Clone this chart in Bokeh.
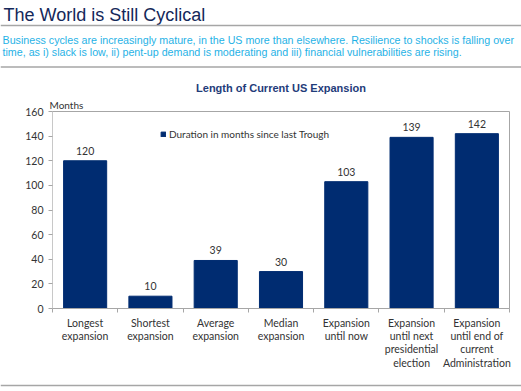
from bokeh.plotting import figure
from bokeh.layouts import column
from bokeh.models import (Range1d, FixedTicker, LabelSet, ColumnDataSource,
                          Legend, LegendItem, Title)
from bokeh.core.properties import value
from bokeh.embed import file_html
from bokeh.resources import INLINE

# ---------------- data ----------------
title_text = "The World is Still Cyclical"
subtitle_lines = [
    "Business cycles are increasingly mature, in the US more than elsewhere. Resilience to shocks is falling over",
    "time, as i) slack is low, ii) pent-up demand is moderating and iii) financial vulnerabilities are rising.",
]
chart_title = "Length of Current US Expansion"
y_axis_title = "Months"
series_name = "Duration in months since last Trough"
categories = [
    "Longest\nexpansion",
    "Shortest\nexpansion",
    "Average\nexpansion",
    "Median\nexpansion",
    "Expansion\nuntil now",
    "Expansion\nuntil next\npresidential\nelection",
    "Expansion\nuntil end of\ncurrent\nAdministration",
]
durations = [120, 10, 39, 30, 103, 139, 142]
y_ticks = [0, 20, 40, 60, 80, 100, 120, 140, 160]

# ---------------- style ----------------
W = 521
HEAD_H, CHART_H, FOOT_H = 70, 311, 10
NAVY = "#002C71"
TXT = "#333333"
RULE = "#A6A6A6"
CAL = "Lato"
ARIAL = "Liberation Sans"


def blank_fig(height):
    f = figure(width=W, height=height, output_backend="svg", toolbar_location=None,
               x_range=Range1d(0, W), y_range=Range1d(height, 0),
               x_axis_location=None, y_axis_location=None, frame_align=False,
               min_border=0, min_border_left=0, min_border_right=0,
               min_border_top=0, min_border_bottom=0)
    f.title.visible = False
    f.xgrid.visible = False
    f.ygrid.visible = False
    f.outline_line_color = None
    f.border_fill_color = "white"
    f.background_fill_color = "white"
    return f


# ---------------- header ----------------
head = blank_fig(HEAD_H)
head.text(x=[3], y=[14], text=[title_text], text_baseline="middle",
          text_font=value(ARIAL), text_font_size="18px", text_color="#14285A")
head.text(x=[2, 2], y=[39, 51], text=subtitle_lines, text_baseline="middle",
          text_font=value(ARIAL), text_font_size="10.7px", text_color="#1FB2E6")
head.segment(x0=[0, 0], x1=[W, W], y0=[25, 66.5], y1=[25, 66.5],
             line_color=RULE, line_width=1.5)

# ---------------- chart ----------------
n = len(categories)
xs = list(range(n))

p = figure(width=W, height=CHART_H, output_backend="svg", toolbar_location=None,
           x_range=Range1d(-0.5, n - 0.5), y_range=Range1d(0, 160), frame_align=False,
           min_border_left=52, min_border_top=41, min_border_right=12, min_border_bottom=73)
p.title.visible = False
p.xgrid.visible = False
p.ygrid.visible = False
p.outline_line_color = RULE
p.background_fill_color = "white"
p.border_fill_color = "white"

src = ColumnDataSource(dict(x=xs, top=durations, label=[str(v) for v in durations]))
bars = p.vbar(x="x", top="top", width=0.66, source=src, fill_color=NAVY, line_color=NAVY)

p.add_layout(LabelSet(x="x", y="top", text="label", source=src, y_offset=6,
                      text_align="center", text_baseline="bottom",
                      text_font=value(CAL), text_font_size="10.5px", text_color=TXT))

xa = p.xaxis[0]
xa.ticker = FixedTicker(ticks=xs, minor_ticks=[i - 0.5 for i in range(n + 1)])
xa.major_label_overrides = {i: c for i, c in enumerate(categories)}
xa.major_tick_out = 0
xa.major_tick_in = 0
xa.minor_tick_out = 4
xa.minor_tick_in = 0
xa.minor_tick_line_color = RULE
xa.axis_line_color = RULE
xa.major_label_text_font = CAL
xa.major_label_text_font_size = "10.5px"
xa.major_label_text_color = TXT
xa.major_label_text_line_height = 1.12
xa.major_label_standoff = 4

ya = p.yaxis[0]
ya.ticker = FixedTicker(ticks=y_ticks, minor_ticks=[])
ya.major_tick_out = 4
ya.major_tick_in = 0
ya.major_tick_line_color = RULE
ya.axis_line_color = "#C8C8C8"
ya.major_label_text_font = CAL
ya.major_label_text_font_size = "10.5px"
ya.major_label_text_color = TXT
ya.major_label_standoff = 5

leg = Legend(items=[LegendItem(label=series_name, renderers=[bars])],
             location=(108, 168), orientation="vertical",
             glyph_width=6, glyph_height=6, label_height=10, label_standoff=3,
             padding=0, margin=0, spacing=0,
             border_line_color=None, background_fill_alpha=0,
             label_text_font=CAL, label_text_font_size="10px", label_text_color=TXT)
p.add_layout(leg)

# titles above the frame (first added = nearest the frame)
p.add_layout(Title(text=y_axis_title, align="left", offset=-3, standoff=2,
                   text_font=CAL, text_font_size="10px", text_font_style="normal",
                   text_color=TXT), "above")
p.add_layout(Title(text=chart_title, align="center", offset=-3.5, standoff=4,
                   text_font=ARIAL, text_font_size="11px", text_font_style="bold",
                   text_color="#1F3C7A"), "above")

# ---------------- footer ----------------
foot = blank_fig(FOOT_H)
foot.segment(x0=[0], x1=[W], y0=[2], y1=[2], line_color=RULE, line_width=1.5)

page = column(head, p, foot, spacing=0)
open("out.html", "w").write(file_html(page, INLINE))
